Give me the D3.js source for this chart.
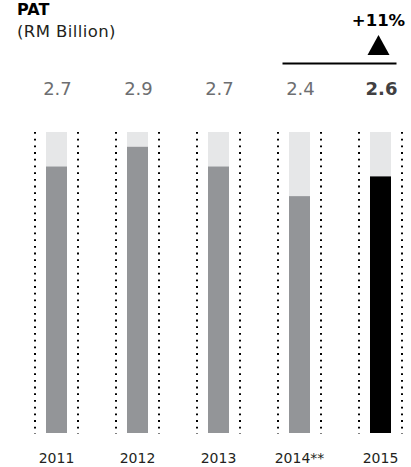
<!DOCTYPE html>
<html>
<head>
<meta charset="utf-8">
<script src="https://cdn.jsdelivr.net/npm/d3@7"></script>
<style>
  html, body { margin: 0; padding: 0; background: #fff; }
  svg { display: block; }
  text { font-family: "DejaVu Sans", "Inter", sans-serif; }
</style>
</head>
<body>
<svg id="chart" width="411" height="467"></svg>
<script>
// PAT by financial year, RM billion
const years = ["2011", "2012", "2013", "2014**", "2015"];
const pat = [2.7, 2.9, 2.7, 2.4, 2.6];
const valueLabels = ["2.7", "2.9", "2.7", "2.4", "2.6"];
const highlightYear = "2015";
const growthLabel = "+11%";

const svg = d3.select("#chart");

const x = d3.scaleBand().domain(years).range([16, 421]).paddingInner(0).paddingOuter(0);
const y = d3.scaleLinear().domain([0, 3.05]).range([433, 132]);
const barW = 21;
const cx = d => x(d) + x.bandwidth() / 2;

// title
svg.append("text").attr("x", 17).attr("y", 15)
  .attr("font-size", 16).attr("font-weight", 700).attr("fill", "#000").text("PAT");
svg.append("text").attr("x", 17).attr("y", 37)
  .attr("font-size", 16.5).attr("letter-spacing", 0.4).attr("fill", "#231f20").text("(RM Billion)");

const data = years.map((yr, i) => ({ yr, v: pat[i], label: valueLabels[i] }));

// dotted guides either side of each bar
const guides = svg.append("g");
data.forEach(d => {
  [-21.5, 21.5].forEach(off => {
    guides.append("line")
      .attr("x1", cx(d.yr) + off).attr("x2", cx(d.yr) + off)
      .attr("y1", y(3.05)).attr("y2", y(0) + 1)
      .attr("stroke", "#000").attr("stroke-width", 2)
      .attr("stroke-dasharray", "1.8 4.9");
  });
});

// track (full scale) behind each bar
svg.append("g").selectAll("rect").data(data).join("rect")
  .attr("x", d => cx(d.yr) - barW / 2).attr("width", barW)
  .attr("y", y(3.05)).attr("height", y(0) - y(3.05))
  .attr("fill", "#e6e7e8");

// value bars
svg.append("g").selectAll("rect").data(data).join("rect")
  .attr("x", d => cx(d.yr) - barW / 2).attr("width", barW)
  .attr("y", d => y(d.v)).attr("height", d => y(0) - y(d.v))
  .attr("fill", d => d.yr === highlightYear ? "#000" : "#939598");

// value labels
svg.append("g").selectAll("text").data(data).join("text")
  .attr("x", d => cx(d.yr) + 1).attr("y", 95)
  .attr("text-anchor", "middle").attr("font-size", 18)
  .attr("font-weight", d => d.yr === highlightYear ? 700 : 400)
  .attr("fill", d => d.yr === highlightYear ? "#414042" : "#6d6e71")
  .text(d => d.label);

// year axis labels
svg.append("g").selectAll("text").data(data).join("text")
  .attr("x", d => cx(d.yr)).attr("y", 463)
  .attr("text-anchor", "middle").attr("font-size", 14).attr("fill", "#231f20")
  .text(d => d.yr);

// growth callout over the last two years
const xh = cx(highlightYear);
svg.append("line")
  .attr("x1", cx("2014**") - 17).attr("x2", xh + 16)
  .attr("y1", 63.5).attr("y2", 63.5)
  .attr("stroke", "#000").attr("stroke-width", 2);
svg.append("path")
  .attr("d", `M${xh - 2},35 L${xh + 9},55 L${xh - 13},55 Z`)
  .attr("fill", "#000");
svg.append("text").attr("x", xh - 2).attr("y", 26)
  .attr("text-anchor", "middle").attr("font-size", 16.5).attr("font-weight", 700)
  .attr("fill", "#000").text(growthLabel);
</script>
</body>
</html>
